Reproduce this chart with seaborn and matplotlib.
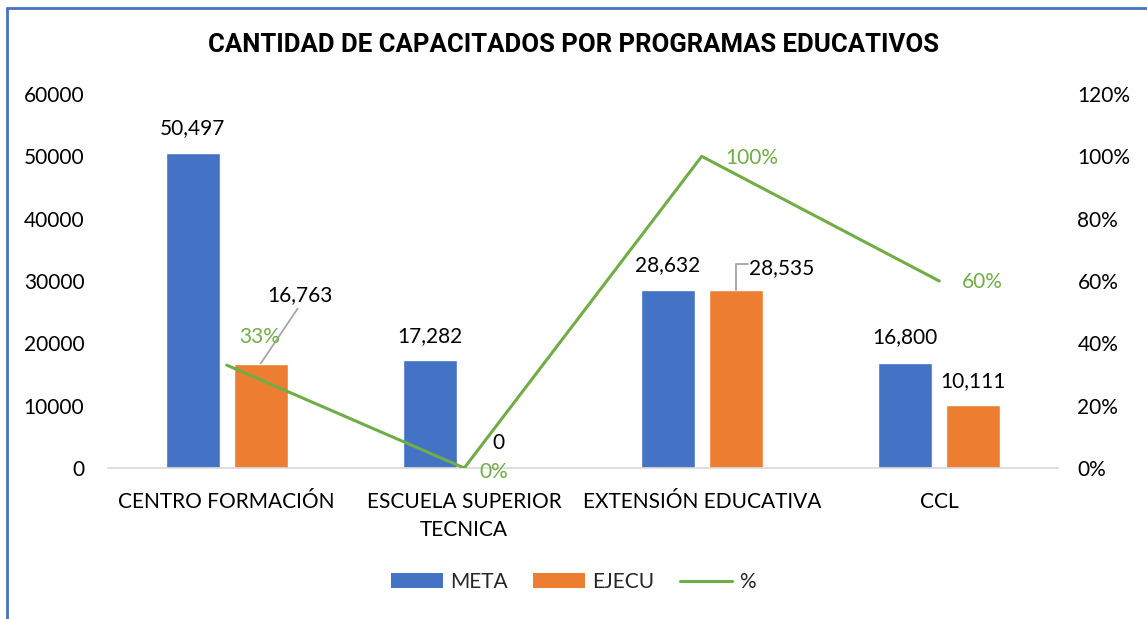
import matplotlib
matplotlib.use("Agg")
import matplotlib.pyplot as plt
import seaborn as sns
import pandas as pd
import numpy as np
from matplotlib.lines import Line2D
from matplotlib.patches import Patch
from matplotlib.ticker import FuncFormatter

categories = ["CENTRO FORMACIÓN", "ESCUELA SUPERIOR\nTECNICA", "EXTENSIÓN EDUCATIVA", "CCL"]
meta = [50497, 17282, 28632, 16800]
ejecu = [16763, 0, 28535, 10111]
pct = [0.33, 0.0, 1.0, 0.60]

BLUE = "#4472C4"
ORANGE = "#ED7D31"
GREEN = "#70AD47"

sns.set_theme(style="white")
plt.rcParams["font.family"] = ["Lato", "DejaVu Sans"]

df = pd.DataFrame({
    "cat": categories * 2,
    "serie": ["META"] * 4 + ["EJECU"] * 4,
    "val": meta + ejecu,
})

fig = plt.figure(figsize=(11.47, 6.19), dpi=100)
ax = fig.add_axes([108 / 1147, 1 - 468 / 619, 950 / 1147, 374 / 619])

sns.barplot(data=df, x="cat", y="val", hue="serie", order=categories,
            hue_order=["META", "EJECU"], palette=[BLUE, ORANGE],
            width=0.572, gap=0.2, saturation=1, ax=ax, legend=False)

ax.set_xlim(-0.5, 3.5)
ax.set_ylim(0, 60000)
ax.set_yticks(np.arange(0, 60001, 10000))
ax.set_xlabel("")
ax.set_ylabel("")
for s in ["top", "right", "left"]:
    ax.spines[s].set_visible(False)
ax.spines["bottom"].set_color("#D9D9D9")
ax.spines["bottom"].set_linewidth(1.2)
ax.tick_params(axis="y", labelsize=15, length=0, pad=17, labelcolor="#000000")
ax.tick_params(axis="x", labelsize=15, length=0, pad=17, labelcolor="#000000")
for t in ax.get_xticklabels():
    t.set_linespacing(1.55)
ax.yaxis.set_major_formatter(FuncFormatter(lambda v, p: f"{int(v)}"))

ax2 = ax.twinx()
x_pos = np.arange(len(categories))
sns.lineplot(x=x_pos, y=pct, color=GREEN, linewidth=2.2, ax=ax2, legend=False)
ax2.set_ylim(0, 1.2)
ax2.set_yticks(np.arange(0, 1.21, 0.2))
ax2.yaxis.set_major_formatter(FuncFormatter(lambda v, p: f"{v*100:.0f}%"))
ax2.tick_params(axis="y", labelsize=15, length=0, pad=14, labelcolor="#000000")
ax2.set_ylabel("")
for s in ["top", "right", "left", "bottom"]:
    ax2.spines[s].set_visible(False)
ax2.set_xlim(-0.5, 3.5)

# bar labels
off = 0.143
meta_offsets = [(0, 25), (0, 24), (0, 24), (0, 26)]
ejecu_offsets = [(39, 68), (0, 25), (46, 22), (0, 24)]
for i in range(len(categories)):
    ax.annotate(f"{meta[i]:,}", (i - off, meta[i]), xytext=meta_offsets[i],
                textcoords="offset pixels", ha="center", va="center",
                fontsize=15, color="black")
for i in range(len(categories)):
    ax.annotate(f"{ejecu[i]:,}", (i + off, ejecu[i]), xytext=ejecu_offsets[i],
                textcoords="offset pixels", ha="center", va="center",
                fontsize=15, color="black")

# leader lines
ax.annotate("", (0 + off, ejecu[0]), xytext=(37, 55), textcoords="offset pixels",
            arrowprops=dict(arrowstyle="-", color="#A6A6A6", lw=1.3, shrinkA=0, shrinkB=0))
ax.annotate("", (2 + off, ejecu[2]), xytext=(12, 26), textcoords="offset pixels",
            arrowprops=dict(arrowstyle="-", color="#A6A6A6", lw=1.3, shrinkA=0, shrinkB=0,
                            connectionstyle="angle,angleA=0,angleB=90,rad=0"))

# percent labels
pct_offsets = [(33, 28), (30, -4), (50, -2), (43, -1)]
for i in range(len(categories)):
    ax2.annotate(f"{pct[i]*100:.0f}%", (i, pct[i]), xytext=pct_offsets[i],
                 textcoords="offset pixels", ha="center", va="center",
                 fontsize=15, color=GREEN)

fig.text(0.5, 1 - 45 / 619, "CANTIDAD DE CAPACITADOS POR PROGRAMAS EDUCATIVOS",
         ha="center", va="center", fontsize=18.5, fontweight="bold", color="black",
         family=["Roboto", "DejaVu Sans"])

handles = [Patch(facecolor=BLUE, edgecolor="none", label="META"),
           Patch(facecolor=ORANGE, edgecolor="none", label="EJECU"),
           Line2D([0], [0], color=GREEN, lw=2.2, label="%")]
fig.legend(handles=handles, loc="center", bbox_to_anchor=(0.5, 1 - 582 / 619),
           ncol=3, frameon=False, fontsize=15, handlelength=2.5, handleheight=0.7,
           handletextpad=0.35, columnspacing=1.2)

# outer frame lines
fig.add_artist(Line2D([7 / 1147, 7 / 1147], [0, 1 - 8 / 619], color=BLUE, lw=2,
                      transform=fig.transFigure))
fig.add_artist(Line2D([7 / 1147, 1], [1 - 8 / 619, 1 - 8 / 619], color=BLUE, lw=2,
                      transform=fig.transFigure))

fig.savefig("out.png", dpi=100)
